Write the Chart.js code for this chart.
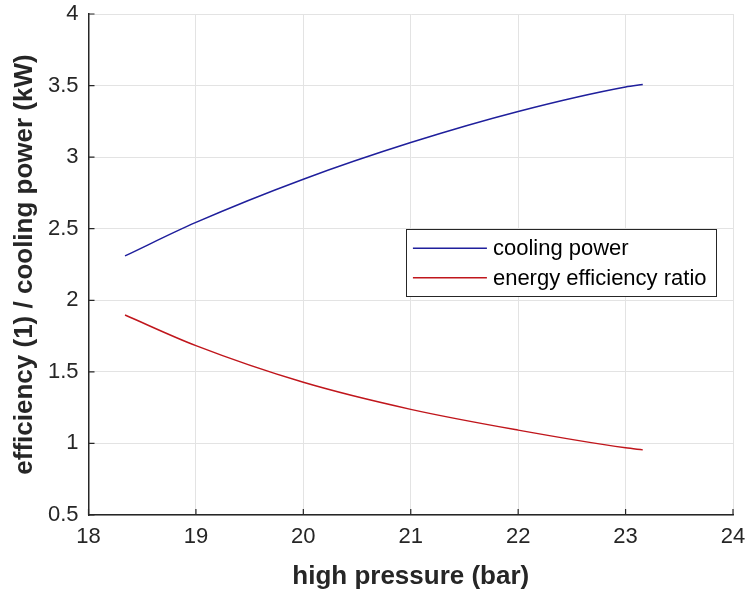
<!DOCTYPE html>
<html>
<head>
<meta charset="utf-8">
<style>
  html, body { margin: 0; padding: 0; background: #fff; }
  #wrap { width: 748px; height: 592px; position: relative; }
</style>
<script src="https://cdn.jsdelivr.net/npm/chart.js@4/dist/chart.umd.min.js"></script>
</head>
<body>
<div id="wrap"><canvas id="grafica" width="748" height="592"></canvas></div>
<script>
// values
const pressure = [18.34, 19, 20, 21, 22, 23, 23.16];
const coolingPower = [2.31, 2.544, 2.846, 3.102, 3.319, 3.49, 3.507];
const efficiencyRatio = [1.897, 1.683, 1.427, 1.238, 1.093, 0.969, 0.955];

const seriesLabels = ['cooling power', 'energy efficiency ratio'];
const seriesColors = ['#1f1f9c', '#c0161c'];

const xTicks = [18, 19, 20, 21, 22, 23, 24];
const yTicks = [0.5, 1, 1.5, 2, 2.5, 3, 3.5, 4];

const axisColor = '#262626';
const gridColor = '#e3e3e3';
const fontFamily = '"Liberation Sans", Arial, Helvetica, sans-serif';

function puntos(xs, ys) {
    return xs.map((x, i) => ({ x: x, y: ys[i] }));
}

// little inward tick marks, like the original axes
const marcasInternas = {
    id: 'marcasInternas',
    afterDatasetsDraw(chart) {
        const ctx = chart.ctx;
        const area = chart.chartArea;
        const sx = chart.scales.x, sy = chart.scales.y;
        const largo = 6;
        ctx.save();
        ctx.strokeStyle = axisColor;
        ctx.lineWidth = 1.2;
        ctx.beginPath();
        xTicks.forEach(v => {
            const px = sx.getPixelForValue(v);
            ctx.moveTo(px, area.bottom);
            ctx.lineTo(px, area.bottom - largo);
        });
        yTicks.forEach(v => {
            const py = sy.getPixelForValue(v);
            ctx.moveTo(area.left, py);
            ctx.lineTo(area.left + largo, py);
        });
        ctx.stroke();
        ctx.restore();
    }
};

// boxed legend sitting inside the plot area
const leyendaCaja = {
    id: 'leyendaCaja',
    afterDraw(chart, args, opts) {
        const ctx = chart.ctx;
        const area = chart.chartArea;
        const left = area.left + opts.fx * (area.right - area.left);
        const top = area.top + opts.fy * (area.bottom - area.top);
        ctx.save();
        ctx.font = opts.fontSize + 'px ' + fontFamily;
        let maxW = 0;
        chart.data.datasets.forEach(ds => {
            maxW = Math.max(maxW, ctx.measureText(ds.label).width);
        });
        const w = opts.padL + opts.lineLen + opts.gap + maxW + opts.padR;
        const h = opts.rowH * chart.data.datasets.length + opts.padV * 2;
        ctx.fillStyle = '#fff';
        ctx.fillRect(left, top, w, h);
        ctx.strokeStyle = axisColor;
        ctx.lineWidth = 1;
        ctx.strokeRect(Math.round(left) + 0.5, Math.round(top) + 0.5, Math.round(w), Math.round(h));
        chart.data.datasets.forEach((ds, i) => {
            const y = top + opts.padV + opts.rowH * (i + 0.5);
            ctx.strokeStyle = ds.borderColor;
            ctx.lineWidth = ds.borderWidth;
            ctx.beginPath();
            ctx.moveTo(left + opts.padL, y);
            ctx.lineTo(left + opts.padL + opts.lineLen, y);
            ctx.stroke();
            ctx.fillStyle = '#000';
            ctx.textBaseline = 'middle';
            ctx.textAlign = 'left';
            ctx.fillText(ds.label, left + opts.padL + opts.lineLen + opts.gap, y + 1);
        });
        ctx.restore();
    }
};

const chart = new Chart(document.getElementById('grafica').getContext('2d'), {
    type: 'line',
    data: {
        datasets: [
            {
                label: seriesLabels[0],
                data: puntos(pressure, coolingPower),
                borderColor: seriesColors[0],
                borderWidth: 1.5,
                pointRadius: 0,
                fill: false,
                cubicInterpolationMode: 'monotone'
            },
            {
                label: seriesLabels[1],
                data: puntos(pressure, efficiencyRatio),
                borderColor: seriesColors[1],
                borderWidth: 1.5,
                pointRadius: 0,
                fill: false,
                cubicInterpolationMode: 'monotone'
            }
        ]
    },
    options: {
        responsive: false,
        animation: false,
        layout: { padding: { top: 14, right: 15, left: 0, bottom: 0 } },
        plugins: {
            legend: { display: false },
            tooltip: { enabled: false },
            leyendaCaja: {
                fx: 0.4925, fy: 0.43,
                fontSize: 22, padL: 7, lineLen: 74, gap: 6, padR: 9,
                rowH: 29.5, padV: 4
            }
        },
        scales: {
            x: {
                type: 'linear',
                min: xTicks[0],
                max: xTicks[xTicks.length - 1],
                afterBuildTicks: s => { s.ticks = xTicks.map(v => ({ value: v })); },
                afterFit: s => { s.height = 77; s.paddingLeft = 0; s.paddingRight = 0; },
                grid: { color: gridColor, drawTicks: false, lineWidth: 1 },
                border: { color: axisColor, width: 1.5 },
                ticks: {
                    color: axisColor,
                    padding: 9,
                    font: { family: fontFamily, size: 22 }
                },
                title: {
                    display: true,
                    text: 'high pressure (bar)',
                    color: axisColor,
                    padding: { top: 0, bottom: 0 },
                    font: { family: fontFamily, size: 26, weight: 'bold' }
                }
            },
            y: {
                min: yTicks[0],
                max: yTicks[yTicks.length - 1],
                afterBuildTicks: s => { s.ticks = yTicks.map(v => ({ value: v })); },
                afterFit: s => { s.width = 88.5; s.paddingTop = 0; s.paddingBottom = 0; },
                grid: { color: gridColor, drawTicks: false, lineWidth: 1 },
                border: { color: axisColor, width: 1.5 },
                ticks: {
                    color: axisColor,
                    padding: 10,
                    font: { family: fontFamily, size: 22 },
                    callback: v => String(v)
                },
                title: {
                    display: true,
                    text: 'efficiency (1) / cooling power (kW)',
                    color: axisColor,
                    padding: { top: 9, bottom: 0 },
                    font: { family: fontFamily, size: 26, weight: 'bold' }
                }
            }
        }
    },
    plugins: [marcasInternas, leyendaCaja]
});
</script>
</body>
</html>
